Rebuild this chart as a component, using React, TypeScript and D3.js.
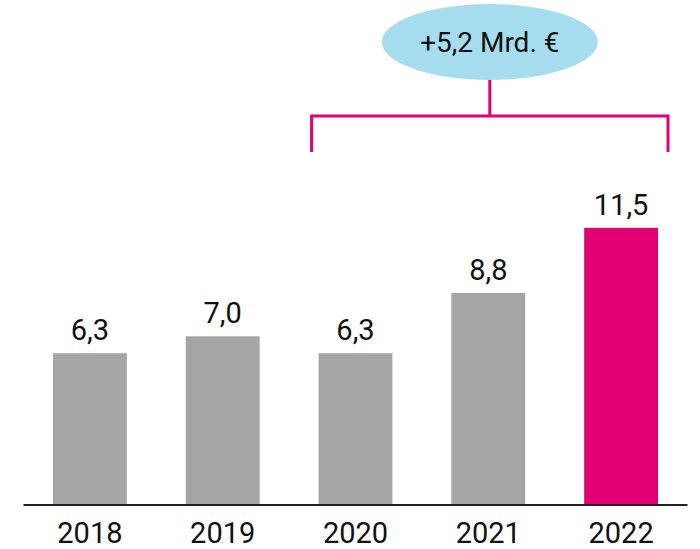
import React from 'react';
import * as d3 from 'd3';

// Values (Mrd. €)
const years = ['2018', '2019', '2020', '2021', '2022'];
const values = [6.3, 7.0, 6.3, 8.8, 11.5];
const valueLabels = ['6,3', '7,0', '6,3', '8,8', '11,5'];
const highlightYear = '2022';
const bracketFrom = '2020';
const bracketTo = '2022';
const bracketLabel = '+5,2 Mrd. €';

const width = 700;
const height = 549;
const magenta = '#e20074';
const grey = '#a5a5a5';
const bubble = '#a6ddee';
const font = 'Roboto, "Noto Sans", sans-serif';

const App = () => {
  // Scales
  const x = d3.scaleBand<string>()
    .domain(years)
    .range([23.5, 687.5])
    .paddingInner(0.444)
    .paddingOuter(0.222);

  const y = d3.scaleLinear()
    .domain([0, 12])
    .range([505, 505 - 12 * 24.1]);

  const bw = x.bandwidth();

  // Bracket geometry
  const bLeft = (x(bracketFrom) ?? 0) - 7;
  const bRight = (x(bracketTo) ?? 0) + bw + 10;
  const bMid = (bLeft + bRight) / 2;
  const bTop = 116;
  const bBottom = 152;
  const stemTop = 80;

  return (
    <svg width={width} height={height} style={{ position: 'absolute', left: 0, top: 0 }}>
      {/* bars */}
      {years.map((yr, i) => (
        <rect
          key={yr}
          x={x(yr)}
          y={y(values[i])}
          width={bw}
          height={y(0) - y(values[i])}
          fill={yr === highlightYear ? magenta : grey}
        />
      ))}

      {/* value labels */}
      {years.map((yr, i) => (
        <text
          key={'v' + yr}
          x={(x(yr) ?? 0) + bw / 2}
          y={y(values[i]) - 13}
          textAnchor="middle"
          fontFamily={font}
          fontSize={29}
          fontWeight={400}
          fill="#111"
        >
          {valueLabels[i]}
        </text>
      ))}

      {/* baseline */}
      <line x1={x.range()[0]} x2={x.range()[1]} y1={y(0)} y2={y(0)} stroke="#222" strokeWidth={2} />

      {/* year labels */}
      {years.map((yr) => (
        <text
          key={'y' + yr}
          x={(x(yr) ?? 0) + bw / 2}
          y={543}
          textAnchor="middle"
          fontFamily={font}
          fontSize={29}
          fontWeight={400}
          fill="#111"
        >
          {yr}
        </text>
      ))}

      {/* bracket */}
      <path
        d={`M${bLeft},${bBottom} V${bTop} H${bRight} V${bBottom} M${bMid},${bTop} V${stemTop}`}
        fill="none"
        stroke={magenta}
        strokeWidth={3}
      />

      {/* bubble */}
      <ellipse cx={bMid} cy={42} rx={108} ry={38} fill={bubble} />
      <text
        x={bMid}
        y={52}
        textAnchor="middle"
        fontFamily={font}
        fontSize={28}
        fontWeight={400}
        fill="#111"
      >
        {bracketLabel}
      </text>
    </svg>
  );
};

export default App;
